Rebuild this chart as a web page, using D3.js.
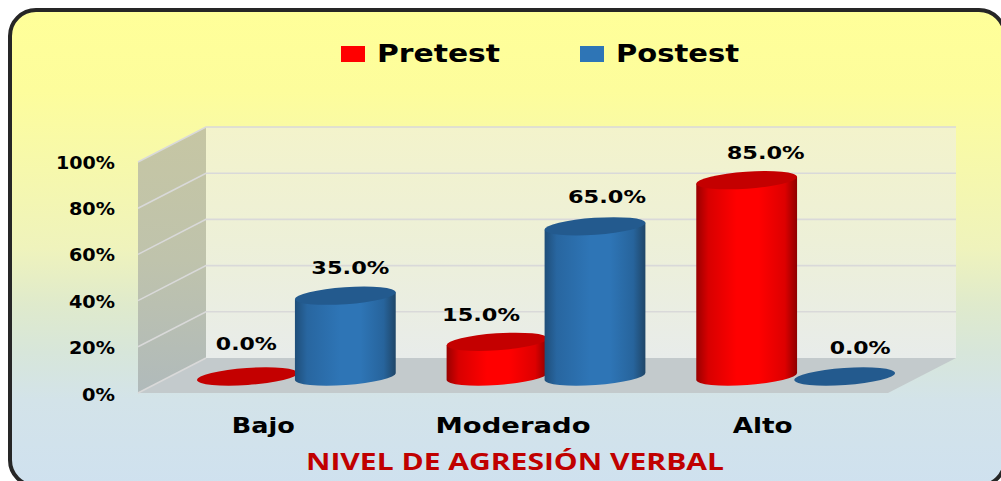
<!DOCTYPE html>
<meta charset="utf-8">
<style>
    html, body { margin: 0; padding: 0; background: #fff; overflow: hidden; }
    svg { display: block; }
    svg text { font-family: "DejaVu Sans", sans-serif; font-weight: bold; fill: #000; }
</style>
<svg width="1001" height="481"></svg>
<script src="https://d3js.org/d3.v7.min.js"></script>
<script>
    var categories = ["Bajo", "Moderado", "Alto"];
    var seriesNames = ["Pretest", "Postest"];
    var pretest = [0, 15, 85];
    var postest = [35, 65, 0];
    var yTicks = [0, 20, 40, 60, 80, 100];
    var axisTitle = "NIVEL DE AGRESIÓN VERBAL";

    var svg = d3.select("svg");
    var defs = svg.append("defs");

    // depth of the 3d box: front edge sits this far left of / below the back wall
    var depthX = 68, depthY = 35;
    var rx = 50.5, ry = 8.5, tilt = -4;
    var tiltDy = 3.5, tiltDx = 50.4;
    var baseY = 376.5;

    var x0 = d3.scaleBand().domain(categories).range([171.5, 920.5]).paddingInner(0.215).paddingOuter(0.1075);
    var x1 = d3.scaleBand().domain(seriesNames).range([0, x0.bandwidth()]);
    var y = d3.scaleLinear().domain([0, 100]).range([358, 127]);
    var h = d3.scaleLinear().domain([0, 100]).range([0, 231]);

    function vGrad(id, stops) {
        var g = defs.append("linearGradient").attr("id", id).attr("x1", 0).attr("y1", 0).attr("x2", 0).attr("y2", 1);
        stops.forEach(s => g.append("stop").attr("offset", s[0]).attr("stop-color", s[1]));
    }
    function hGrad(id, stops) {
        var g = defs.append("linearGradient").attr("id", id);
        stops.forEach(s => g.append("stop").attr("offset", s[0]).attr("stop-color", s[1]));
    }
    vGrad("bg", [[0, "#ffff99"], [0.17, "#fdfd9c"], [0.5, "#eff3bc"], [0.62, "#dfeacc"], [0.72, "#d7e6da"], [0.82, "#d3e3e9"], [1, "#cfe1ef"]]);
    vGrad("backWall", [[0, "#f3f3cb"], [0.5, "#edf0d8"], [1, "#e8ecea"]]);
    vGrad("sideWall", [[0, "#c6c6a3"], [0.5, "#bfc3ac"], [1, "#b0babb"]]);
    hGrad("redBody", [[0, "#990000"], [0.12, "#d80000"], [0.4, "#ff0000"], [0.62, "#ff0000"], [0.88, "#dd0000"], [1, "#8f0000"]]);
    hGrad("blueBody", [[0, "#1f4e79"], [0.12, "#2866a0"], [0.45, "#2e75b6"], [0.65, "#2e75b6"], [0.88, "#27649c"], [1, "#1f4668"]]);

    var colors = {
        Pretest: {body: "url(#redBody)", top: "#c40000", key: "#ff0000"},
        Postest: {body: "url(#blueBody)", top: "#235a8e", key: "#2e75b6"}
    };

    // frame
    svg.append("rect")
        .attr("x", 10).attr("y", 10).attr("width", 995).attr("height", 476).attr("rx", 26)
        .attr("fill", "url(#bg)").attr("stroke", "#262626").attr("stroke-width", 4);

    // box
    var left = 206, right = 956;
    var box = svg.append("g");
    box.append("path")
        .attr("d", `M${left},${y(100)}H${right}V${y(0)}H${left}Z`)
        .attr("fill", "url(#backWall)");
    box.append("path")
        .attr("d", `M${left - depthX},${y(100) + depthY}L${left},${y(100)}V${y(0)}L${left - depthX},${y(0) + depthY}Z`)
        .attr("fill", "url(#sideWall)");
    box.append("path")
        .attr("d", `M${left - depthX},${y(0) + depthY}L${left},${y(0)}H${right}L${right - depthX},${y(0) + depthY}Z`)
        .attr("fill", "#c3cacc");

    box.selectAll(".grid").data(yTicks).enter().append("path")
        .attr("class", "grid")
        .attr("d", d => `M${left - depthX},${y(d) + depthY}L${left},${y(d)}` + (d > 0 ? `H${right}` : ""))
        .attr("fill", "none")
        .attr("stroke", "#d9d9d9")
        .attr("stroke-width", 1.6);

    // y tick labels
    svg.selectAll(".tick").data(yTicks).enter().append("text")
        .attr("class", "tick")
        .attr("x", 115)
        .attr("y", d => y(d) + depthY + (d === 0 ? 8 : 7))
        .attr("text-anchor", "end")
        .attr("font-size", 17)
        .attr("textLength", d => d === 100 ? 59 : d === 0 ? 33 : 46)
        .attr("lengthAdjust", "spacingAndGlyphs")
        .text(d => d + "%");

    // cylinders, flattest first so the taller one covers it
    var bars = [];
    categories.forEach((c, i) => {
        var group = [
            {cat: c, name: "Pretest", value: pretest[i]},
            {cat: c, name: "Postest", value: postest[i]}
        ];
        group.sort((a, b) => a.value - b.value);
        bars = bars.concat(group);
    });

    function cx(d) { return x0(d.cat) + x1(d.name) + x1.bandwidth() / 2; }

    var barG = svg.selectAll(".bar").data(bars).enter().append("g").attr("class", "bar");

    barG.filter(d => d.value > 0).append("path")
        .attr("d", d => {
            var c = cx(d), top = baseY - h(d.value);
            return `M${c - tiltDx},${top + tiltDy}V${baseY + tiltDy}` +
                `A${rx},${ry} ${tilt} 0 0 ${c + tiltDx},${baseY - tiltDy}` +
                `V${top - tiltDy}Z`;
        })
        .attr("fill", d => colors[d.name].body);

    barG.append("ellipse")
        .attr("cx", 0).attr("cy", 0).attr("rx", rx).attr("ry", ry)
        .attr("transform", d => `translate(${cx(d)},${baseY - h(d.value)}) rotate(${tilt})`)
        .attr("fill", d => colors[d.name].top);

    // value labels, the original has them hand placed
    var nudge = {
        "Bajo Pretest": [-1, -27], "Bajo Postest": [5, -22],
        "Moderado Pretest": [-16, -21], "Moderado Postest": [12, -23],
        "Alto Pretest": [19, -21], "Alto Postest": [15.5, -23]
    };
    svg.selectAll(".value").data(bars).enter().append("text")
        .attr("class", "value")
        .attr("x", d => cx(d) + nudge[d.cat + " " + d.name][0])
        .attr("y", d => baseY - h(d.value) + nudge[d.cat + " " + d.name][1])
        .attr("text-anchor", "middle")
        .attr("font-size", 17)
        .attr("textLength", d => d.value === 0 ? 61 : 78)
        .attr("lengthAdjust", "spacingAndGlyphs")
        .text(d => d.value.toFixed(1) + "%");

    // category labels sit under the front edge of the box
    var catWidth = {Bajo: 63, Moderado: 155, Alto: 60};
    svg.selectAll(".cat").data(categories).enter().append("text")
        .attr("class", "cat")
        .attr("x", d => x0(d) + x0.bandwidth() / 2 - depthX / 2 + 1)
        .attr("y", 433)
        .attr("text-anchor", "middle")
        .attr("font-size", 21)
        .attr("textLength", d => catWidth[d])
        .attr("lengthAdjust", "spacingAndGlyphs")
        .text(d => d);

    svg.append("text")
        .attr("x", 515).attr("y", 470)
        .attr("text-anchor", "middle")
        .attr("font-size", 23)
        .attr("textLength", 418)
        .attr("lengthAdjust", "spacingAndGlyphs")
        .style("font-family", "'Open Sans', sans-serif")
        .style("fill", "#c00000")
        .text(axisTitle);

    // legend
    var legendX = d3.scalePoint().domain(seriesNames).range([341, 580]);
    var legend = svg.selectAll(".key").data(seriesNames).enter().append("g")
        .attr("class", "key")
        .attr("transform", d => `translate(${legendX(d)},46)`);
    legend.append("rect")
        .attr("width", 24).attr("height", 16)
        .attr("fill", d => colors[d].key);
    legend.append("text")
        .attr("x", 36).attr("y", 16)
        .attr("font-size", 25)
        .attr("textLength", 123)
        .attr("lengthAdjust", "spacingAndGlyphs")
        .text(d => d);
</script>
